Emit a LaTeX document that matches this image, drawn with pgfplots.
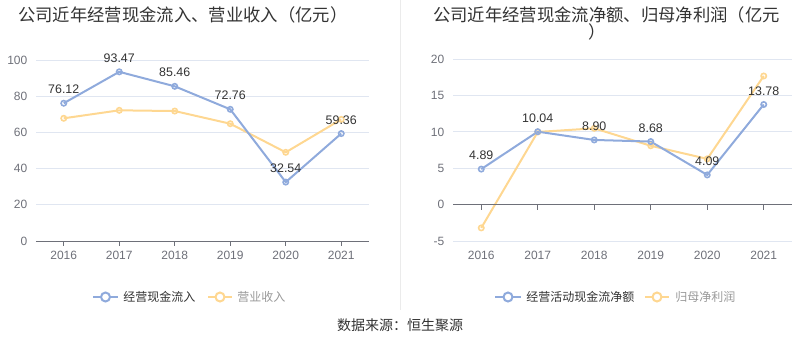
\documentclass[border=0pt]{standalone}
\usepackage{pgfplots}
\pgfplotsset{compat=1.18}
\usepackage{fontspec}
\setmainfont{Liberation Sans}
\newfontfamily\cjk{Noto Sans CJK SC}
\definecolor{cblue}{RGB}{143,170,220}
\definecolor{corange}{RGB}{254,215,145}
\definecolor{cgrid}{RGB}{224,230,241}
\definecolor{caxis}{RGB}{110,112,121}
\definecolor{clabel}{RGB}{51,51,51}
\definecolor{csep}{RGB}{235,235,235}

\pgfplotstableread{
x y
0 76.12
1 93.47
2 85.46
3 72.76
4 32.54
5 59.36
}\leftblue
\pgfplotstableread{
x y
0 67.8
1 72.2
2 71.8
3 64.8
4 49.0
5 67.2
}\leftorange
\pgfplotstableread{
x y
0 4.89
1 10.04
2 8.90
3 8.68
4 4.09
5 13.78
}\rightblue
\pgfplotstableread{
x y
0 -3.2
1 10.0
2 10.5
3 8.1
4 6.3
5 17.7
}\rightorange

\pgfplotsset{
  mystyle/.style={
    scale only axis,
    anchor=south west,
    xmin=-0.5, xmax=5.5,
    xtick={0,...,5},
    xticklabels={2016,2017,2018,2019,2020,2021},
    axis line style={draw=none},
    major tick length=0pt,
    ymajorgrids,
    grid style={cgrid, line width=0.75pt},
    tick label style={font=\fontsize{9}{10}\selectfont, text=caxis},
    xticklabel style={yshift=-4pt},
    yticklabel style={xshift=-3pt},
    /pgf/number format/assume math mode=true,
    clip=false,
  },
  blueline/.style={cblue, line width=1.5pt, mark=o, mark size=2pt, mark options={fill=white, line width=1.2pt}},
  orangeline/.style={corange, line width=1.5pt, mark=o, mark size=2pt, mark options={fill=white, line width=1.2pt}},
  labels/.style={nodes near coords, point meta=y,
    every node near coord/.append style={font=\fontsize{9.3}{10}\selectfont, text=clabel, anchor=south, yshift=3pt,
      /pgf/number format/fixed, /pgf/number format/precision=2, /pgf/number format/fixed zerofill, /pgf/number format/assume math mode=true}},
}

\begin{document}
\begin{tikzpicture}
\path[use as bounding box] (0,0) rectangle (600pt,-268.5pt);

\begin{axis}[mystyle, at={(27pt,-180.75pt)}, width=249.75pt, height=135.75pt,
  ymin=0, ymax=100, ytick={0,20,...,100}]
  \addplot[orangeline] table {\leftorange};
  \addplot[blueline, labels] table {\leftblue};
  \draw[caxis, line width=0.75pt] (axis cs:-0.5,0) -- (axis cs:5.5,0);
  \pgfplotsinvokeforeach{0,...,5}{\draw[caxis, line width=0.75pt] (axis cs:#1,0) -- ([yshift=-3.75pt]axis cs:#1,0);}
\end{axis}

\begin{axis}[mystyle, at={(339.75pt,-180.75pt)}, width=254.25pt, height=136.3pt,
  ymin=-5, ymax=20, ytick={-5,0,...,20}]
  \addplot[orangeline] table {\rightorange};
  \addplot[blueline, labels] table {\rightblue};
  \draw[caxis, line width=0.75pt] (axis cs:-0.5,0) -- (axis cs:5.5,0);
  \pgfplotsinvokeforeach{0,...,5}{\draw[caxis, line width=0.75pt] (axis cs:#1,0) -- ([yshift=-3.75pt]axis cs:#1,0);}
\end{axis}

\begin{scope}[x=0.75pt, y=-0.75pt]
  \draw[csep, line width=0.75pt] (400,0) -- (400,310);
  \node[anchor=west, inner sep=0, text=clabel] at (18,15) {\cjk\fontsize{13}{14}\selectfont 公司近年经营现金流入、营业收入（亿元）};
  \node[anchor=west, inner sep=0, text=clabel] at (433,15) {\cjk\fontsize{13}{14}\selectfont 公司近年经营现金流净额、归母净利润（亿元};
  \node[anchor=center, inner sep=0, text=clabel] at (597,32) {\cjk\fontsize{13}{14}\selectfont ）};
  % legends
  \draw[cblue, line width=1.5pt] (93,297) -- (118,297);
  \draw[cblue, line width=1.5pt, fill=white] (105.5,297) circle (4.5);
  \node[anchor=west, inner sep=0, text=clabel] at (123,297) {\cjk\fontsize{9}{10}\selectfont 经营现金流入};
  \draw[corange, line width=1.5pt] (208,297) -- (232,297);
  \draw[corange, line width=1.5pt, fill=white] (220,297) circle (4.5);
  \node[anchor=west, inner sep=0, text=gray!80] at (237,297) {\cjk\fontsize{9}{10}\selectfont 营业收入};
  \draw[cblue, line width=1.5pt] (495,297) -- (521,297);
  \draw[cblue, line width=1.5pt, fill=white] (508,297) circle (4.5);
  \node[anchor=west, inner sep=0, text=clabel] at (526,297) {\cjk\fontsize{9}{10}\selectfont 经营活动现金流净额};
  \draw[corange, line width=1.5pt] (645,297) -- (669,297);
  \draw[corange, line width=1.5pt, fill=white] (657,297) circle (4.5);
  \node[anchor=west, inner sep=0, text=gray!80] at (675,297) {\cjk\fontsize{9}{10}\selectfont 归母净利润};
  \node[anchor=center, inner sep=0, text=clabel] at (400,325) {\cjk\fontsize{10.5}{12}\selectfont 数据来源：恒生聚源};
\end{scope}
\end{tikzpicture}
\end{document}
